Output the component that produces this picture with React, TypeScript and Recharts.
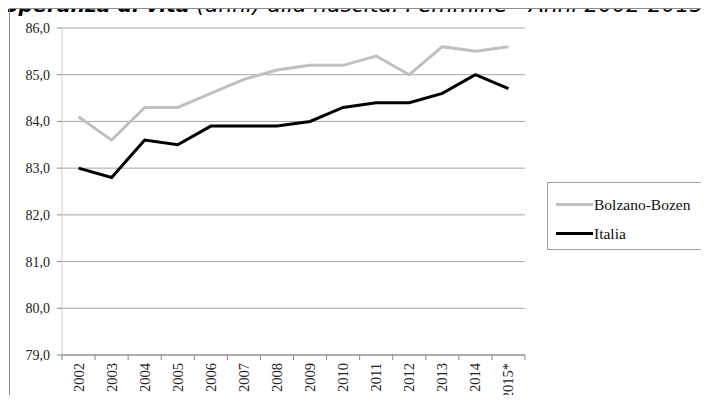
import React from "react";
import { Legend, Line, LineChart, CartesianGrid, XAxis, YAxis } from "recharts";

const years = ["2002", "2003", "2004", "2005", "2006", "2007", "2008", "2009", "2010", "2011", "2012", "2013", "2014", "2015*"];
const bolzano = [84.1, 83.6, 84.3, 84.3, 84.6, 84.9, 85.1, 85.2, 85.2, 85.4, 85.0, 85.6, 85.5, 85.6];
const italia = [83.0, 82.8, 83.6, 83.5, 83.9, 83.9, 83.9, 84.0, 84.3, 84.4, 84.4, 84.6, 85.0, 84.7];
const yTicks = [79, 80, 81, 82, 83, 84, 85, 86];

const data = years.map((year, i) => ({ year, bolzano: bolzano[i], italia: italia[i] }));

const W = 709;
const H = 403;
const MARGIN = { top: 28, right: 184, bottom: 0, left: 0 };
const Y_W = 62;
const X_H = 48;
const PLOT_W = W - MARGIN.left - MARGIN.right - Y_W;
const BAND = PLOT_W / years.length;
const SERIF = "'Liberation Serif', 'Times New Roman', serif";

// x and y here are the point on the axis line (tickSize and tickMargin are 0)
const YearTick = (props: any) => {
  const { x, y, payload, index } = props;
  const half = BAND / 2;
  const ty = y + 8;
  return (
    <g>
      <line x1={x - half} x2={x - half} y1={y} y2={y + 5} stroke="#888" />
      {index === years.length - 1 && (
        <line x1={x + half} x2={x + half} y1={y} y2={y + 5} stroke="#888" />
      )}
      <text
        x={x}
        y={ty}
        transform={`rotate(-90 ${x} ${ty})`}
        textAnchor="end"
        dominantBaseline="central"
        fontFamily={SERIF}
        fontSize={14.5}
        fill="#222"
      >
        {payload.value}
      </text>
    </g>
  );
};

const LegendBox = () => {
  const items = [
    { label: "Bolzano-Bozen", color: "#c0c0c0" },
    { label: "Italia", color: "#000" },
  ];
  return (
    <div
      style={{
        boxSizing: "border-box",
        width: 156,
        height: 68,
        border: "1px solid #a0a0a0",
        background: "#fff",
        padding: "7px 0 0 8px",
        fontFamily: SERIF,
        fontSize: 15.5,
        color: "#111",
      }}
    >
      {items.map((it) => (
        <div key={it.label} style={{ display: "flex", alignItems: "center", height: 29 }}>
          <span style={{ display: "inline-block", width: 37, height: 3, background: it.color }} />
          <span style={{ marginLeft: 1 }}>{it.label}</span>
        </div>
      ))}
    </div>
  );
};

export default function App() {
  return (
    <div style={{ position: "relative", width: W, height: H, margin: -8, overflow: "hidden", background: "#fff" }}>
      <div
        style={{
          position: "absolute",
          left: 4,
          top: -7,
          whiteSpace: "nowrap",
          fontFamily: "'DejaVu Sans', Verdana, sans-serif",
          fontSize: 21.8,
          lineHeight: "24px",
          fontStyle: "italic",
          color: "#000",
        }}
      >
        <b style={{ fontSize: 20.3 }}>Speranza di vita</b> (anni) alla nascita. Femmine - Anni 2002-2015
      </div>
      <div
        style={{
          position: "absolute",
          left: 9,
          top: 8,
          width: 760,
          height: 460,
          border: "1px solid #8c8c8c",
        }}
      />
      <div style={{ position: "absolute", left: 0, top: 0 }}>
        <LineChart width={W} height={H} data={data} margin={MARGIN}>
          <CartesianGrid vertical={false} stroke="#a6a6a6" />
          <XAxis
            dataKey="year"
            height={X_H}
            interval={0}
            padding={{ left: BAND / 2, right: BAND / 2 }}
            tickLine={false}
            tickSize={0}
            tickMargin={0}
            axisLine={{ stroke: "#888" }}
            tick={<YearTick />}
          />
          <YAxis
            width={Y_W}
            domain={[79, 86]}
            ticks={yTicks}
            interval={0}
            tickFormatter={(v: number) => v.toFixed(1).replace(".", ",")}
            axisLine={{ stroke: "#d0d0d0" }}
            tickLine={{ stroke: "#888" }}
            tickSize={5}
            tickMargin={7}
            tick={{ fontFamily: SERIF, fontSize: 14, fill: "#222" }}
          />
          <Legend
            layout="vertical"
            align="center"
            verticalAlign="middle"
            content={<LegendBox />}
            wrapperStyle={{ left: 547, top: 182, width: 156, height: 68 }}
          />
          <Line
            dataKey="bolzano"
            name="Bolzano-Bozen"
            stroke="#c0c0c0"
            strokeWidth={3}
            dot={false}
            isAnimationActive={false}
          />
          <Line
            dataKey="italia"
            name="Italia"
            stroke="#000"
            strokeWidth={3}
            dot={false}
            isAnimationActive={false}
          />
        </LineChart>
      </div>
    </div>
  );
}
